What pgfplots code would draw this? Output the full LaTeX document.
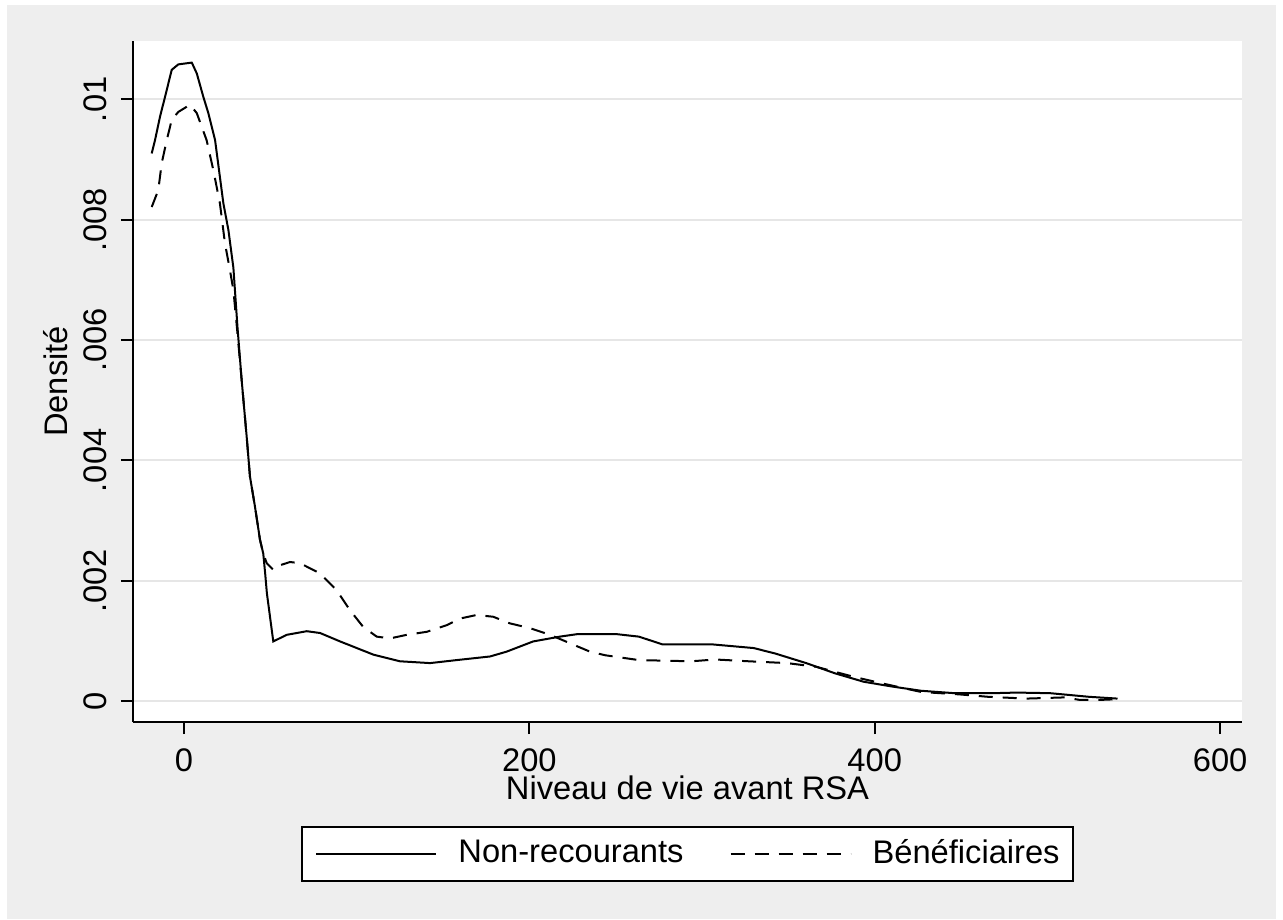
\documentclass[border=0pt]{standalone}
\usepackage{fontspec}
\setmainfont{Liberation Sans}
\usepackage{pgfplots}
\pgfplotsset{compat=1.18}
\usepackage{pgfplotstable}
\definecolor{bggray}{RGB}{238,238,238}
\definecolor{gridgray}{RGB}{230,230,230}
\newcommand{\cf}{\fontsize{9.8}{11.8}\selectfont}

% density in thousandths
\pgfplotstableread{
x y
-18.7 9.10
-16.8 9.32
-13.9 9.71
-11.0 10.04
-7.1 10.49
-3.3 10.58
4.5 10.61
7.4 10.43
11.2 10.04
14.1 9.77
18.0 9.32
22.8 8.27
25.7 7.83
28.6 7.20
31.0 6.20
33.4 5.33
36.3 4.39
38.2 3.73
41.1 3.23
44.0 2.68
45.9 2.45
47.0 2.12
48.0 1.79
51.7 0.99
59.5 1.10
71.1 1.16
78.8 1.13
90.4 0.99
109.7 0.77
125.1 0.66
142.5 0.63
157.9 0.68
177.2 0.74
186.8 0.82
202.2 0.99
217.7 1.07
227.4 1.11
250.9 1.11
263.4 1.07
277.2 0.94
306.3 0.94
329.9 0.88
342.3 0.79
360.3 0.63
377.0 0.46
393.6 0.32
410.2 0.24
426.9 0.17
446.2 0.13
468.4 0.13
482.2 0.14
501.6 0.13
524.0 0.07
540.6 0.04
}\nonrec

\pgfplotstableread{
x y
-18.7 8.21
-14.9 8.49
-12.9 8.94
-10.0 9.32
-7.1 9.66
-3.3 9.79
3.5 9.91
7.4 9.77
13.1 9.32
17.0 8.82
20.8 8.27
23.7 7.61
26.6 7.16
28.6 6.83
31.0 6.10
33.4 5.33
36.3 4.39
38.2 3.73
41.1 3.23
44.0 2.68
45.9 2.45
47.9 2.29
51.7 2.18
56.0 2.26
61.4 2.31
67.2 2.29
78.8 2.12
88.4 1.84
96.1 1.51
103.8 1.23
111.6 1.07
119.3 1.04
129.0 1.10
140.6 1.15
152.1 1.26
159.8 1.37
169.5 1.43
179.1 1.40
188.8 1.29
200.4 1.21
212.0 1.10
223.5 0.96
235.1 0.82
244.0 0.76
263.4 0.68
293.8 0.66
307.7 0.69
327.1 0.66
349.2 0.63
365.9 0.57
388.1 0.40
404.7 0.29
426.9 0.15
449.0 0.11
465.6 0.07
487.8 0.04
510.0 0.06
518.3 0.02
532.2 0.02
540.3 0.03
}\benef

\begin{document}
\begin{tikzpicture}
\fill[white] (-39.9pt,-59.1pt) rectangle (345pt,216.6pt);
\fill[bggray] (-37.8pt,-59.1pt) rectangle (342.9pt,215.1pt);
\begin{axis}[
    scale only axis,
    width=332.7pt, height=204.3pt,
    xmin=-29.54, xmax=612.7,
    ymin=-0.349, ymax=10.969,
    axis x line*=bottom, axis y line*=left,
    axis line style={black, line width=0.6pt},
    axis background/.style={fill=white},
    xtick={0,200,400,600},
    ytick={0,2,4,6,8,10},
    yticklabels={0,.002,.004,.006,.008,.01},
    tick align=outside, major tick length=3.6pt,
    tick style={black, line width=0.6pt},
    ymajorgrids,
    grid style={gridgray, line width=0.6pt},
    /pgf/number format/assume math mode=true,
    ticklabel style={font=\cf, inner sep=0pt},
    xticklabel style={anchor=north},
    yticklabel style={rotate=90, anchor=south},
    xticklabel shift=4.2pt,
    yticklabel shift=4.2pt,
    xlabel={Niveau de vie avant RSA},
    ylabel={Densité},
    xlabel style={at={(axis description cs:0.5,-0.0778)}, anchor=north, inner sep=0pt, font=\cf},
    ylabel style={at={(axis description cs:-0.0694,0.5)}, anchor=center, inner sep=0pt, font=\cf},
    legend columns=2,
    legend image code/.code={\draw[#1] (0pt,0pt) -- (36pt,0pt);},
    legend style={at={(0.5,-0.1527)}, anchor=north, draw=black, line width=0.6pt,
        fill=white, inner xsep=4pt, inner ysep=3.7pt, font=\cf,
        nodes={inner sep=0pt},
        /tikz/every odd column/.append style={column sep=6.3pt},
        /tikz/every even column/.append style={column sep=13.8pt}},
]
\addplot[black, line width=0.6pt] table[x=x, y=y] {\nonrec};
\addlegendentry{Non-recourants}
\addplot[black, line width=0.6pt, dash pattern=on 4.2pt off 3pt] table[x=x, y=y] {\benef};
\addlegendentry{Bénéficiaires}
\end{axis}
\end{tikzpicture}
\end{document}
